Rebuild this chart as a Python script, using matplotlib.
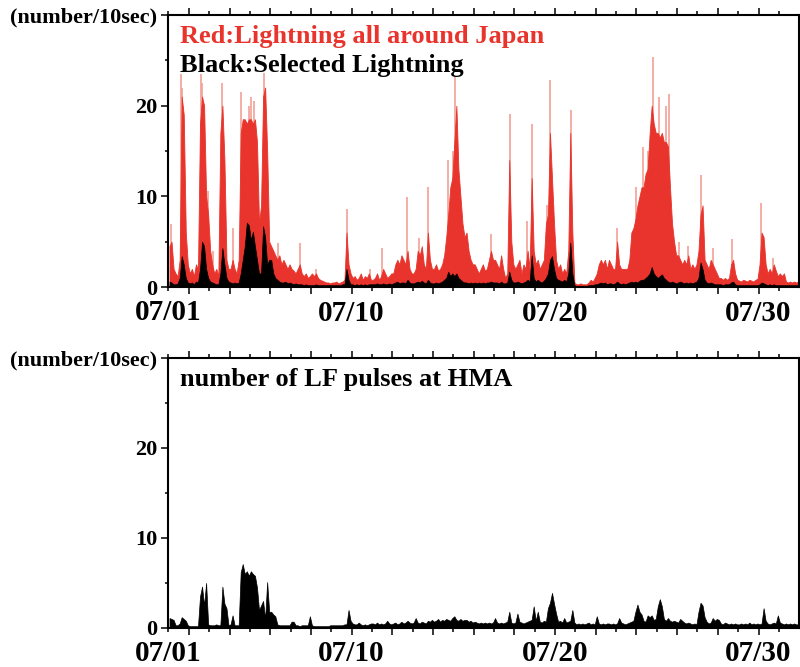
import numpy as np
import matplotlib
matplotlib.use('Agg')
import matplotlib.pyplot as plt

# counts per 10 sec, 0.1-day bins from 07/01 00:00, one row per day
red_all = [
    4.5, 5, 2, 1.5, 1.2, 3, 21, 19, 6, 2.5,
    1.5, 2, 1.2, 2.5, 2, 18, 21, 20, 10, 8,
    4, 2.5, 1.5, 2, 1.2, 17, 20, 14, 3, 2,
    2, 3, 2, 1.5, 3, 17, 18.5, 18.5, 18, 18.5,
    18.5, 18, 18.5, 16, 7, 9, 21, 22, 15, 5,
    4.5, 4, 3.5, 3, 3.5, 2.5, 3, 2.5, 2, 2.5,
    2, 1.8, 1.5, 2, 2.5, 1.5, 1.2, 1.5, 1, 1.2,
    1.5, 1.2, 1.5, 1, 0.8, 0.7, 0.6, 0.5, 0.5, 0.4,
    0.5, 0.5, 0.6, 0.4, 0.5, 0.6, 0.8, 6, 2.5, 1.5,
    1, 1.2, 0.8, 1, 1.5, 0.8, 1.2, 1, 1.5, 0.8,
    0.8, 1, 1.5, 0.8, 1.2, 2, 1.5, 1, 1.2, 1.5,
    1.5, 2.5, 3, 2.5, 3.5, 3, 2.5, 4, 2, 1.5,
    1.5, 2, 4, 3.5, 4.5, 2.5, 2, 6, 3, 2,
    2, 2.5, 1.8, 2, 2.5, 3.5, 5.5, 8, 11, 12,
    16, 20, 13, 10, 7, 5.5, 6, 4, 3, 2.5,
    2.5, 2, 1.5, 2, 2.5, 1.8, 2, 3, 4, 3,
    3, 2.5, 2, 3.5, 2, 1, 1.5, 14, 5, 2.5,
    2, 2.5, 3, 1.5, 2.5, 2, 4, 2, 12, 4,
    2.5, 3, 2, 2.5, 3, 7, 8, 17, 12, 7,
    3, 2, 2.5, 1.5, 2, 1.5, 4, 17, 6, 0.5,
    0.3, 0.3, 0.4, 0.3, 0.3, 0.3, 0.5, 0.8, 0.6, 1,
    1.5, 2.5, 3, 2.5, 3, 2, 3, 2.5, 2, 2,
    5, 2.5, 2, 2, 2, 2, 3, 6, 6.5, 7.5,
    9, 10, 11, 11, 12.5, 13, 17, 20, 18, 17,
    17, 16.5, 17, 16, 16, 15.5, 11, 7, 5, 3.5,
    3.5, 3, 2.5, 3, 2.5, 3.5, 2, 2.5, 2, 2.5,
    4, 8, 9, 3, 2.5, 2, 3, 2.5, 2, 1.5,
    1, 1, 0.8, 1, 0.8, 1, 2.5, 3, 1.5, 0.8,
    0.7, 0.6, 0.8, 0.7, 0.6, 0.8, 0.7, 0.6, 0.8, 0.9,
    2.5, 6, 5.5, 2.5, 1.5, 2, 1.5, 2.5, 1.8, 1.2,
    1.5, 1.2, 1.5, 0.6, 0.5, 0.6, 0.5, 0.6, 0.5, 0.6,
]

black_sel = [
    0.6, 0.5, 0.3, 0.3, 0.4, 1, 3.4, 2.5, 1, 0.5,
    0.4, 0.5, 0.3, 0.6, 0.5, 2, 5, 4.5, 2, 1,
    0.6, 0.5, 0.4, 0.3, 0.3, 1.5, 4.3, 2.5, 1, 0.6,
    0.5, 0.4, 0.5, 0.4, 0.5, 1.5, 3, 4.5, 7.1, 6.8,
    5.2, 6.1, 4.5, 3, 1.5, 1.5, 6.7, 5.5, 2.5, 3,
    3, 1.5, 1, 0.8, 0.6, 0.5, 0.5, 0.6, 0.4, 0.5,
    0.4, 0.3, 0.4, 0.3, 0.3, 0.3, 0.2, 0.3, 0.2, 0.2,
    0.2, 0.2, 0.3, 0.2, 0.2, 0.2, 0.2, 0.2, 0.2, 0.2,
    0.2, 0.2, 0.2, 0.2, 0.2, 0.3, 0.3, 2, 0.8, 0.3,
    0.3, 0.2, 0.3, 0.2, 0.3, 0.2, 0.3, 0.2, 0.3, 0.3,
    0.3, 0.3, 0.4, 0.3, 0.3, 0.4, 0.3, 0.3, 0.4, 0.3,
    0.4, 0.5, 0.6, 0.4, 0.5, 0.5, 0.4, 0.8, 0.5, 0.4,
    0.4, 0.5, 0.6, 0.5, 0.7, 0.5, 0.4, 0.8, 0.5, 0.4,
    0.4, 0.5, 0.4, 0.5, 0.6, 0.8, 1, 1.7, 1.2, 1.5,
    1.2, 1.5, 1, 0.8, 0.6, 0.5, 0.5, 0.4, 0.5, 0.4,
    0.5, 0.4, 0.5, 0.4, 0.5, 0.4, 0.5, 0.5, 0.6, 0.5,
    0.5, 0.5, 0.4, 0.6, 0.4, 0.4, 0.5, 1.7, 0.8, 0.5,
    0.5, 0.6, 0.5, 0.4, 0.5, 0.6, 0.8, 0.6, 3.5, 1,
    0.6, 0.8, 0.6, 0.5, 0.7, 1, 1.5, 3, 3.4, 2,
    1, 0.8, 0.7, 0.6, 0.8, 0.6, 1.5, 4.9, 1.5, 0.2,
    0.1, 0.1, 0.1, 0.1, 0.1, 0.1, 0.2, 0.2, 0.2, 0.3,
    0.3, 0.4, 0.5, 0.4, 0.5, 0.3, 0.4, 0.4, 0.3, 0.4,
    0.6, 0.4, 0.3, 0.4, 0.3, 0.4, 0.5, 0.6, 0.5, 0.6,
    0.5, 0.7, 0.8, 0.8, 1, 1.2, 1.5, 2.2, 1.5, 1.2,
    1, 1.2, 1.4, 1, 0.8, 0.6, 0.5, 0.6, 0.5, 0.4,
    0.5, 0.6, 0.5, 0.4, 0.5, 0.4, 0.5, 0.4, 0.5, 0.6,
    1, 2.7, 2, 0.8, 0.5, 0.4, 0.5, 0.4, 0.3, 0.3,
    0.3, 0.3, 0.2, 0.3, 0.3, 0.3, 0.5, 0.6, 0.3, 0.2,
    0.2, 0.2, 0.2, 0.2, 0.2, 0.2, 0.2, 0.2, 0.2, 0.2,
    0.3, 0.5, 0.4, 0.3, 0.2, 0.3, 0.2, 0.3, 0.2, 0.2,
    0.2, 0.2, 0.2, 0.2, 0.2, 0.2, 0.2, 0.2, 0.2, 0.2,
]

lf_pulses = [
    1.1, 1, 0.9, 0.3, 0.3, 0.5, 1.2, 1, 0.8, 0.3,
    0.2, 0.2, 0.2, 0.2, 0.2, 3.5, 4.6, 2.5, 5, 0.4,
    0.3, 0.3, 0.3, 0.4, 0.3, 0.3, 4.6, 2.7, 2.2, 0.3,
    0.4, 1.4, 0.3, 0.3, 0.3, 6.2, 7.1, 6, 6.3, 5.8,
    6.3, 6, 5.8, 4.5, 2, 2.5, 3, 1, 5.1, 1.8,
    1.8, 1.5, 1.3, 0.4, 0.3, 0.3, 0.3, 0.3, 0.3, 0.3,
    0.7, 0.7, 0.3, 0.3, 0.2, 0.3, 0.3, 0.3, 0.3, 1.3,
    0.3, 0.2, 0.2, 0.2, 0.2, 0.2, 0.2, 0.2, 0.2, 0.3,
    0.3, 0.3, 0.3, 0.3, 0.3, 0.3, 0.4, 0.4, 2, 0.8,
    0.5, 0.4, 0.4, 0.6, 0.4, 0.3, 0.4, 0.3, 0.4, 0.5,
    0.5, 0.4, 0.6, 0.4, 0.5, 0.4, 0.5, 0.8, 0.5, 0.4,
    0.5, 0.6, 0.4, 0.5, 0.7, 0.5, 0.6, 0.8, 0.6, 0.5,
    0.6, 1.1, 0.6, 0.5, 0.7, 0.6, 0.5, 0.8, 0.7, 0.9,
    0.7, 0.8, 1, 0.7, 0.9, 0.8, 1, 0.9, 0.8, 1.1,
    1.3, 0.9, 0.8, 1, 0.8, 0.9, 0.9, 0.7, 0.8, 0.6,
    0.7, 0.6, 0.5, 0.6, 0.5, 0.6, 0.5, 0.6, 0.5, 0.6,
    1.1, 0.6, 0.5, 0.6, 0.5, 0.6, 0.7, 1.8, 0.6, 0.5,
    0.6, 1.6, 0.7, 0.6, 0.5, 0.6, 0.7, 0.8, 0.9, 2.4,
    0.8, 1.8, 0.7, 0.6, 0.8, 0.7, 2.2, 2.8, 3.9, 2.7,
    1.6, 0.7, 0.8, 0.6, 1.1, 0.6, 0.7, 0.8, 2, 0.6,
    0.4, 0.5, 0.4, 0.5, 0.4, 0.5, 0.6, 0.4, 0.5, 0.4,
    1.3, 0.5, 0.4, 0.5, 0.4, 0.5, 0.5, 0.4, 0.5, 0.4,
    0.5, 1.1, 0.6, 0.5, 0.4, 0.5, 0.6, 0.7, 0.8, 1.8,
    2.6, 1.8, 1.5, 0.8, 0.7, 1.4, 1.2, 1.4, 0.9, 1,
    2.4, 3.2, 2.4, 1, 0.8, 1.1, 0.8, 0.7, 0.8, 0.7,
    0.6, 1, 0.8, 0.6, 0.5, 0.6, 0.5, 0.4, 0.5, 0.4,
    1.8, 2.8, 2.5, 1.2, 0.7, 0.5, 0.6, 1.1, 0.8, 1,
    0.9, 0.5, 0.4, 0.6, 0.5, 0.4, 0.5, 0.4, 0.5, 0.4,
    0.4, 0.5, 0.4, 0.5, 0.4, 0.6, 0.4, 0.5, 0.4, 0.5,
    0.4, 0.5, 2.2, 0.8, 0.5, 0.4, 0.5, 0.6, 0.5, 1.4,
    0.6, 0.5, 0.4, 0.5, 0.4, 0.5, 0.4, 0.5, 0.4, 0.4,
]

# thin peaks sticking out of the red bins (day, count)
spike_day = [0.13, 0.62, 0.68, 1.58, 1.63, 1.92, 2.2, 2.62, 3.15, 3.55,
             3.95, 4.05, 4.2, 4.68, 4.75, 5.36, 6.45, 7.25, 8.75, 9.9,
             10.5, 11.71, 12.3, 12.77, 13.76, 14.0, 14.09, 14.2, 15.84, 16.79,
             17.64, 17.89, 18.6, 18.76, 18.9, 19.77, 22.06, 22.97, 23.3, 23.55,
             23.8, 24.13, 24.45, 24.62, 25.11, 25.52, 26.18, 26.75, 27.68, 29.12,
             29.7]
spike_val = [7, 23.5, 22, 23.5, 22.5, 10.6, 4, 22.5, 6.5, 21.5,
             20, 21, 20.5, 23.6, 22, 4.8, 4.8, 2, 8.6, 2,
             4.3, 9.9, 5.4, 11, 14, 15, 23.2, 15, 5.8, 19.1,
             7.3, 18, 9, 22.8, 9, 19.5, 6.5, 11, 15.4, 15,
             25.4, 21, 20, 21.3, 5, 4.5, 12.4, 4.3, 5.3, 9.3,
             3.2]

date_pos = [0, 9, 19, 29]
date_lab = ['07/01', '07/10', '07/20', '07/30']

plt.rcParams['font.family'] = 'Liberation Serif'
plt.rcParams['font.weight'] = 'bold'

RED = '#e8342c'
PINK = '#f2a196'

# bin centres
t = np.arange(len(red_all)) * 0.1 + 0.05


def style_axes(ax):
    ax.set_xlim(0, 31)
    ax.set_ylim(0, 30)
    for s in ax.spines.values():
        s.set_linewidth(1.5)
    ax.set_yticks([0, 10, 20, 30])
    ax.set_yticklabels(['0', '10', '20', '(number/10sec)'], fontsize=16)
    ax.set_yticks([5, 15, 25], minor=True)
    odd = np.arange(1, 31, 2)
    even = np.arange(0, 31, 2)
    ax.set_xticks(odd)
    ax.set_xticklabels([date_lab[date_pos.index(d)] if d in date_pos else ''
                        for d in odd], fontsize=21)
    ax.set_xticks(even, minor=True)
    ax.set_xticklabels(['07/01' if d == 0 else '' for d in even],
                       minor=True, fontsize=21)
    ax.tick_params(axis='both', which='both', direction='out', width=1.1,
                   top=True, right=False, labeltop=False)
    ax.tick_params(axis='x', which='major', length=5, pad=4)
    ax.tick_params(axis='x', which='minor', length=3, pad=5.5)
    ax.tick_params(axis='y', which='major', length=5, pad=3)
    ax.tick_params(axis='y', which='minor', length=2.5)


fig = plt.figure(figsize=(8, 6.67), dpi=100)

ax1 = fig.add_axes([0.2106, 0.5697, 0.7884, 0.4078])
ax1.vlines(spike_day, 0, spike_val, color=PINK, lw=1.2, zorder=0.5)
ax1.fill_between(t, red_all, color=RED, lw=0.6, edgecolor=RED, zorder=1)
ax1.fill_between(t, black_sel, color='k', lw=0.5, edgecolor='k', zorder=1.5)
style_axes(ax1)
ax1.text(0.018, 0.897, 'Red:Lightning all around Japan', color=RED,
         fontsize=19, fontweight='bold', transform=ax1.transAxes)
ax1.text(0.018, 0.79, 'Black:Selected Lightning', color='k',
         fontsize=19, fontweight='bold', transform=ax1.transAxes)

ax2 = fig.add_axes([0.2106, 0.0585, 0.7884, 0.4048])
ax2.fill_between(t, lf_pulses, color='k', lw=0.5, edgecolor='k')
style_axes(ax2)
ax2.text(0.018, 0.897, 'number of LF pulses at HMA', color='k',
         fontsize=19, fontweight='bold', transform=ax2.transAxes)

fig.savefig('out.png', dpi=100)
